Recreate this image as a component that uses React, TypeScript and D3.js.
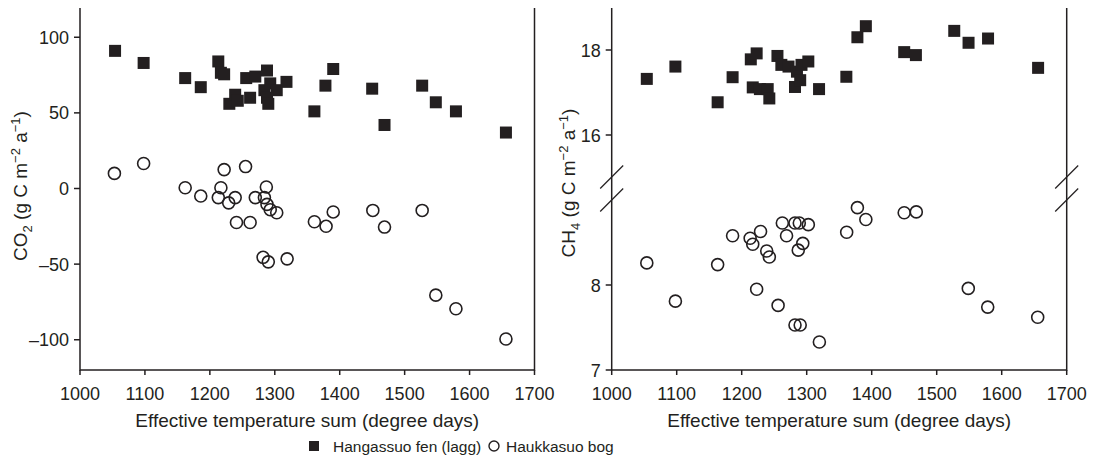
import React from "react";
import * as d3 from "d3";

const xTicks = [1000, 1100, 1200, 1300, 1400, 1500, 1600, 1700];
const co2Ticks = [100, 50, 0, -50, -100];
const ch4UpperTicks = [18, 16];
const ch4LowerTicks = [8, 7];

const co2Fen: [number, number][] = [
  [1054, 91], [1098, 83], [1162, 73], [1186, 67], [1213, 84], [1217, 76.5], [1222, 75.5],
  [1230, 56], [1239, 62], [1243, 58], [1256, 73], [1262, 60], [1270, 74], [1284, 65],
  [1288, 78], [1288, 60], [1290, 56], [1293, 69.5], [1303, 65], [1318, 70.5], [1361, 51],
  [1378, 68], [1390, 79], [1450, 66], [1469, 42], [1527, 68], [1548, 57], [1579, 51], [1656, 37],
];
const co2Bog: [number, number][] = [
  [1053, 10], [1098, 16.5], [1162, 0.5], [1186, -5], [1213, -6], [1217, 0.5], [1222, 12.5],
  [1229, -9.5], [1239, -6], [1241, -22.5], [1255, 14.5], [1262, -22.5], [1270, -6], [1284, -6],
  [1287, 1], [1288, -10.5], [1293, -14], [1303, -16], [1282, -45.5], [1290, -48.5], [1319, -46.5],
  [1361, -22], [1379, -25], [1390, -15.5], [1451, -14.5], [1469, -25.5], [1527, -14.5],
  [1548, -70.5], [1579, -79.5], [1656, -99.5],
];
const ch4Fen: [number, number][] = [
  [1054, 17.32], [1098, 17.61], [1163, 16.77], [1186, 17.36], [1214, 17.78], [1223, 17.92],
  [1217, 17.12], [1228, 17.08], [1240, 17.08], [1242.5, 16.86], [1255, 17.86], [1261, 17.65],
  [1272, 17.61], [1285, 17.49], [1282, 17.13], [1290, 17.29], [1292, 17.65], [1302.5, 17.73],
  [1319, 17.08], [1361, 17.37], [1378, 18.3], [1391, 18.56], [1450, 17.95], [1468, 17.88],
  [1527, 18.45], [1549, 18.17], [1579, 18.27], [1656, 17.58],
];
const ch4Bog: [number, number][] = [
  [1054, 8.26], [1098, 7.81], [1163, 8.24], [1186, 8.58], [1213, 8.55], [1217, 8.48],
  [1229, 8.63], [1223, 7.95], [1238.5, 8.4], [1242.5, 8.33], [1256, 7.76], [1262.5, 8.73],
  [1269, 8.58], [1282, 8.73], [1288.6, 8.73], [1282, 7.53], [1290, 7.53], [1287, 8.41],
  [1294, 8.49], [1302.5, 8.71], [1319.5, 7.33], [1361.5, 8.62], [1378, 8.91], [1391, 8.77],
  [1450, 8.85], [1468.6, 8.86], [1548.6, 7.96], [1578.5, 7.74], [1655.4, 7.62],
];
const legendLabels = ["Hangassuo fen (lagg)", "Haukkasuo bog"];
const xTitle = "Effective temperature sum (degree days)";

const INK = "#231f20";
const FONT = "'Liberation Sans', Arial, Helvetica, sans-serif";
const TOP = 7;
const BOTTOM = 370;
const SQ = 12;
const R = 6;

const fmt = (v: number) => (v < 0 ? "\u2013" + Math.abs(v) : String(v));

function XAxis({ x }: { x: d3.ScaleLinear<number, number> }) {
  return (
    <g>
      {xTicks.map((t) => (
        <g key={t}>
          <line x1={x(t)} x2={x(t)} y1={BOTTOM} y2={BOTTOM + 5} stroke={INK} strokeWidth={1.5} />
          <text x={x(t)} y={BOTTOM + 29.5} textAnchor="middle" fontSize={18} fill={INK}>
            {t}
          </text>
        </g>
      ))}
      <text x={(x(1000) + x(1700)) / 2} y={BOTTOM + 57} textAnchor="middle" fontSize={19} fill={INK}>
        {xTitle}
      </text>
    </g>
  );
}

function YTicks({ y, ticks, x0 }: { y: d3.ScaleLinear<number, number>; ticks: number[]; x0: number }) {
  return (
    <g>
      {ticks.map((t) => (
        <g key={t}>
          <line x1={x0 - 6} x2={x0} y1={y(t)} y2={y(t)} stroke={INK} strokeWidth={1.5} />
          <text x={x0 - 11} y={y(t) + 6.5} textAnchor="end" fontSize={18} fill={INK}>
            {fmt(t)}
          </text>
        </g>
      ))}
    </g>
  );
}

function Squares({ data, x, y }: { data: [number, number][]; x: any; y: any }) {
  return (
    <g>
      {data.map(([a, b], i) => (
        <rect key={i} x={x(a) - SQ / 2} y={y(b) - SQ / 2} width={SQ} height={SQ} fill={INK} />
      ))}
    </g>
  );
}

function Circles({ data, x, y }: { data: [number, number][]; x: any; y: any }) {
  return (
    <g>
      {data.map(([a, b], i) => (
        <circle key={i} cx={x(a)} cy={y(b)} r={R} fill="none" stroke={INK} strokeWidth={1.6} />
      ))}
    </g>
  );
}

function YLabel({ cx, cy, gas, sub }: { cx: number; cy: number; gas: string; sub: string }) {
  return (
    <text transform={`translate(${cx},${cy}) rotate(-90)`} textAnchor="middle" fontSize={19} fill={INK}>
      {gas}
      <tspan fontSize={13} dy={5}>{sub}</tspan>
      <tspan dy={-5}> (g C m</tspan>
      <tspan fontSize={13} dy={-7}>{"\u22122"}</tspan>
      <tspan dy={7}> a</tspan>
      <tspan fontSize={13} dy={-7}>{"\u22121"}</tspan>
      <tspan dy={7}>)</tspan>
    </text>
  );
}

export default function App() {
  const xL = d3.scaleLinear().domain([1000, 1700]).range([80, 534.5]);
  const yL = d3.scaleLinear().domain([-120, 120]).range([BOTTOM, TOP]);
  const xR = d3.scaleLinear().domain([1000, 1700]).range([611.7, 1066.7]);
  const yRU = d3.scaleLinear().domain([16, 18]).range([135, 50]);
  const yRL = d3.scaleLinear().domain([7, 8]).range([BOTTOM, 285]);

  const breakY1 = 177;
  const breakY2 = 200;
  const slash = (xc: number, yc: number) => (
    <line x1={xc - 11.5} y1={yc + 11.5} x2={xc + 11.5} y2={yc - 11.5} stroke={INK} strokeWidth={1.2} />
  );

  return (
    <svg width={1080} height={460} style={{ display: "block", fontFamily: FONT }}>
      <g transform="translate(-8,-8)">
        {/* Left panel */}
        <rect x={80} y={TOP} width={534.5 - 80} height={BOTTOM - TOP} fill="none" stroke={INK} strokeWidth={1.5} />
        <YTicks y={yL} ticks={co2Ticks} x0={80} />
        <XAxis x={xL} />
        <Squares data={co2Fen} x={xL} y={yL} />
        <Circles data={co2Bog} x={xL} y={yL} />
        <YLabel cx={27} cy={186} gas="CO" sub="2" />

        {/* Right panel */}
        <rect x={611.7} y={TOP} width={1066.7 - 611.7} height={BOTTOM - TOP} fill="none" stroke={INK} strokeWidth={1.5} />
        <YTicks y={yRU} ticks={ch4UpperTicks} x0={611.7} />
        <YTicks y={yRL} ticks={ch4LowerTicks} x0={611.7} />
        <XAxis x={xR} />
        <Squares data={ch4Fen} x={xR} y={yRU} />
        <Circles data={ch4Bog} x={xR} y={yRL} />
        <YLabel cx={575} cy={183} gas="CH" sub="4" />
        {slash(611.7, breakY1)}
        {slash(611.7, breakY2)}
        {slash(1066.7, breakY1)}
        {slash(1066.7, breakY2)}

        {/* Legend */}
        <rect x={309} y={441} width={10} height={10} fill={INK} />
        <text x={333} y={452} fontSize={15.5} fill={INK}>
          {legendLabels[0]}
        </text>
        <circle cx={494} cy={446} r={5} fill="none" stroke={INK} strokeWidth={1.4} />
        <text x={506} y={452} fontSize={15.5} fill={INK}>
          {legendLabels[1]}
        </text>
      </g>
    </svg>
  );
}
